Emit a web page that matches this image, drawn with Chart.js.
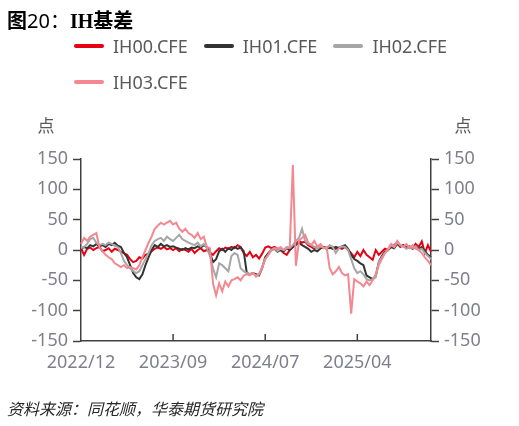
<!DOCTYPE html>
<html><head><meta charset="utf-8">
<script src="https://cdn.jsdelivr.net/npm/chart.js@4.4.1/dist/chart.umd.min.js"></script>
<style>
html,body{margin:0;padding:0;background:#fff;}
#wrap{position:relative;width:519px;height:426px;overflow:hidden;}
#c{position:absolute;left:0;top:0;}
#title{position:absolute;left:7px;top:7px;font-size:20px;line-height:26px;color:#000;font-family:"Noto Sans CJK SC",sans-serif;white-space:nowrap;z-index:2}
#title .d{font-family:"Noto Sans",sans-serif}
#title .s{font-family:"Liberation Serif",serif;font-weight:bold}
#title .b{font-weight:bold}
#legend{position:absolute;left:74px;top:34px;width:400px;display:flex;flex-wrap:wrap;column-gap:16px;row-gap:12px;z-index:2}
.item{display:flex;align-items:center;height:24px;font-family:"Noto Sans",sans-serif;font-size:18px;color:#595959;white-space:nowrap}
.sw{display:inline-block;width:30px;height:4px;border-radius:2px;margin-right:9px}
.unit{position:absolute;top:112px;width:30px;text-align:center;font-family:"Noto Sans CJK SC",sans-serif;font-size:17px;color:#595959;z-index:2}
#src{position:absolute;left:7px;top:396px;font-family:"Noto Sans CJK SC",sans-serif;font-size:16px;font-style:italic;color:#262626;white-space:nowrap;z-index:2}
</style></head>
<body>
<div id="wrap">
<canvas id="c" width="519" height="426"></canvas>
<div id="title"><span class="b">图</span><span class="d">20</span>：<span class="s">IH</span><span class="b">基差</span></div>
<div id="legend"></div>
<div class="unit" style="left:31px">点</div>
<div class="unit" style="left:448px">点</div>
<div id="src">资料来源：同花顺，华泰期货研究院</div>
</div>
<script>
const seriesNames = ['IH00.CFE','IH01.CFE','IH02.CFE','IH03.CFE'];
const seriesColors = ['#e60012','#333333','#a6a6a6','#f4878f'];
const tickLabels = ['2022/12','2023/09','2024/07','2025/04'];
const yTicks = [-150,-100,-50,0,50,100,150];

const dates = [
'2022/12','2022/12','2022/12','2022/12','2023/01','2023/01','2023/01','2023/02','2023/02','2023/02',
'2023/02','2023/03','2023/03','2023/03','2023/04','2023/04','2023/04','2023/05','2023/05','2023/05',
'2023/05','2023/06','2023/06','2023/06','2023/07','2023/07','2023/07','2023/08','2023/08','2023/08',
'2023/09','2023/09','2023/09','2023/10','2023/10','2023/10','2023/11','2023/11','2023/11','2023/12',
'2023/12','2023/12','2024/01','2024/01','2024/01','2024/02','2024/02','2024/02','2024/03','2024/03',
'2024/03','2024/04','2024/04','2024/04','2024/05','2024/05','2024/05','2024/06','2024/06','2024/06',
'2024/07','2024/07','2024/07','2024/07','2024/08','2024/08','2024/08','2024/09','2024/09','2024/09',
'2024/09','2024/10','2024/10','2024/10','2024/11','2024/11','2024/11','2024/12','2024/12','2024/12',
'2024/12','2025/01','2025/01','2025/01','2025/02','2025/02','2025/02','2025/03','2025/03','2025/03',
'2025/04','2025/04','2025/04','2025/04','2025/05','2025/05','2025/05','2025/06','2025/06','2025/06',
'2025/06','2025/07','2025/07','2025/07','2025/08','2025/08','2025/08','2025/09','2025/09','2025/09',
'2025/09','2025/10','2025/10','2025/10','2025/10'];

const ih00 = [3,-8,2,4,0,3,5,-2,0,3, -3,2,0,-3,-5,-8,-15,-20,-18,-12, -14,-8,-6,-2,2,4,2,5,1,3,
 0,3,-2,2,0,-3,2,-5,0,3, -2,0,-4,-8,-2,3,0,4,2,5, 3,8,5,-5,-10,-3,-12,-8,-14,-6,
 4,6,3,5,2,0,-5,-8,0,5, 10,15,12,14,8,5,2,6,3,5, 4,3,5,2,4,2,5,0,-5,-12,
 -3,-10,0,-8,-12,-16,0,-8,-3,2, 0,5,8,12,5,8,3,5,2,10, 5,14,-5,8,-3];
const ih01 = [2,5,3,8,6,10,6,8,5,10, 8,12,7,5,-5,-12,-25,-38,-45,-48, -40,-25,-12,0,8,5,10,6,8,5,
 6,4,2,0,3,1,4,3,6,4, 8,5,-5,-20,-15,-2,2,-3,3,0, 5,2,4,-2,-38,-40,-38,-40,-42,-30,
 -12,-5,0,2,-3,0,-2,3,0,5, 8,12,8,5,2,-3,0,-2,3,5, 2,4,2,5,3,6,8,2,-8,-15,
 -18,-22,-25,-42,-45,-48,-43,-20,-10,-3, 0,5,3,10,6,8,4,6,3,5, 2,5,-2,-8,-12];
const ih02 = [3,5,10,18,20,12,8,10,8,12, 10,7,5,-5,-18,-25,-30,-35,-38,-35, -25,-15,-5,8,15,18,20,15,22,18,
 15,20,25,18,15,12,10,8,12,6, 10,3,-10,-30,-45,-22,-25,-30,-35,-10, -5,-8,-30,-35,-38,-40,-38,-42,-40,-28,
 -15,-8,0,3,-2,2,0,5,3,8, 15,20,35,15,10,8,5,2,6,4, 2,8,5,-5,3,6,5,0,-15,-30,
 -38,-35,-40,-48,-50,-48,-45,-20,-12,-5, 0,8,5,12,8,6,2,5,3,6, 0,2,-5,-10,-15];
const ih03 = [10,20,15,22,25,28,5,-2,-8,-12, -15,-22,-25,-28,-25,-30,-28,-30,-32,-25, -12,0,12,22,35,40,45,42,45,48,
 42,45,35,30,35,28,25,20,28,18, 22,5,3,-55,-75,-55,-68,-52,-60,-50, -48,-45,-50,-42,-40,-42,-38,-44,-40,-30,
 -15,-8,0,3,2,5,0,3,5,140, -26,15,20,25,12,8,15,5,10,3, 5,-30,-40,-35,-28,-38,-42,-40,-105,-48,
 -52,-55,-60,-52,-58,-50,-40,-25,-15,-5, 2,10,5,15,8,5,10,3,8,2, 0,-5,-12,-18,-25];

const seriesData = [ih00, ih01, ih02, ih03];

// HTML legend from the series lists
const lg = document.getElementById('legend');
seriesNames.forEach((n,i)=>{
  const d=document.createElement('div'); d.className='item';
  d.innerHTML='<span class="sw" style="background:'+seriesColors[i]+'"></span>'+n;
  lg.appendChild(d);
});

const axisColor = '#404040';
const tickColor = '#7f7f8c';
const isTickIdx = i => tickLabels.includes(dates[i]) && (i===0 || dates[i-1]!==dates[i]);

const innerTicks = {
  id:'innerTicks',
  afterDraw(chart){
    const xs = chart.scales.x, ctx = chart.ctx, b = chart.chartArea.bottom;
    ctx.save(); ctx.strokeStyle = axisColor; ctx.lineWidth = 1.5;
    dates.forEach((d,i)=>{
      if(isTickIdx(i) && i>0){
        const x = xs.getPixelForValue(i);
        ctx.beginPath(); ctx.moveTo(x,b); ctx.lineTo(x,b-7); ctx.stroke();
      }
    });
    ctx.restore();
  }
};

const yCommon = {
  min:-150, max:150,
  afterBuildTicks(s){ s.ticks = yTicks.map(v=>({value:v})); },
  grid:{display:true, drawOnChartArea:false, drawTicks:true, tickLength:8, tickColor:axisColor, tickWidth:1.5},
  border:{display:true, color:axisColor, width:1.5},
  ticks:{color:tickColor, font:{family:'"Noto Sans", sans-serif', size:18}, padding:5}
};

new Chart(document.getElementById('c'), {
  type:'line',
  data:{
    labels: dates,
    datasets: seriesNames.map((n,i)=>({
      label:n, data:seriesData[i], borderColor:seriesColors[i], backgroundColor:seriesColors[i],
      borderWidth:2, pointRadius:0, tension:0, yAxisID:'y', order:4-i
    }))
  },
  options:{
    responsive:false, animation:false, devicePixelRatio:1,
    layout:{padding:{top:159, bottom:40, left:0, right:0}},
    plugins:{legend:{display:false}, title:{display:false}, tooltip:{enabled:false}},
    scales:{
      x:{
        type:'category', offset:false,
        grid:{display:true, drawOnChartArea:false, drawTicks:false},
        border:{display:true, color:axisColor, width:1.5},
        ticks:{autoSkip:false, maxRotation:0, minRotation:0, padding:11, color:tickColor,
          font:{family:'"Noto Sans", sans-serif', size:18},
          callback:(v,i)=> isTickIdx(i) ? dates[i] : null},
        afterFit(s){ s.height = 45; }
      },
      y:Object.assign({}, yCommon, {position:'left', afterFit(s){ s.width = 81; }}),
      y2:Object.assign({}, yCommon, {position:'right', afterFit(s){ s.width = 88; },
        grid:Object.assign({}, yCommon.grid), ticks:Object.assign({}, yCommon.ticks)})
    }
  },
  plugins:[innerTicks]
});
</script>
</body></html>
